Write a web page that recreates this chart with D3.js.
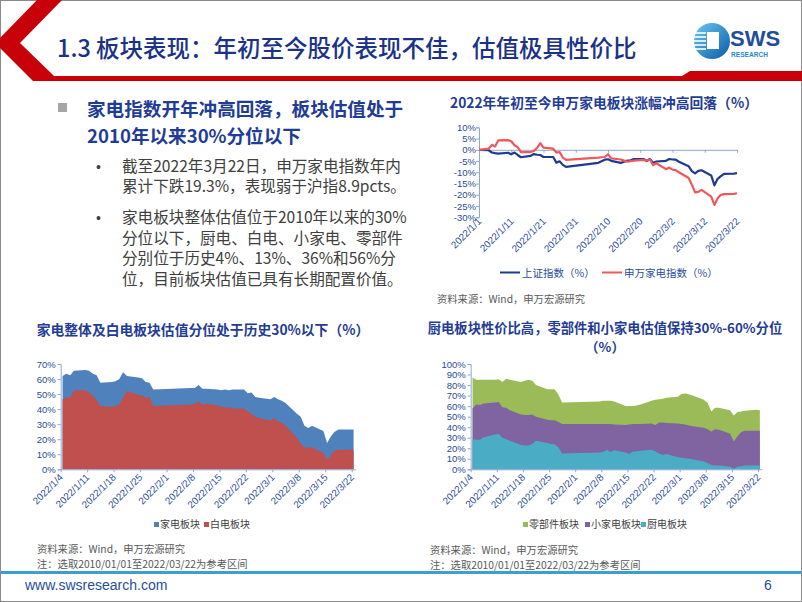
<!DOCTYPE html>
<html><head><meta charset="utf-8">
<script src="https://cdn.jsdelivr.net/npm/d3@7"></script>
<style>body{margin:0;background:#fff}svg{display:block}</style>
</head><body><svg id="c" width="802" height="602"></svg>
<script>
// ---------------- DATA ----------------
const tradingDays = ["2022/1/4","2022/1/5","2022/1/6","2022/1/7","2022/1/10","2022/1/11","2022/1/12","2022/1/13","2022/1/14","2022/1/17","2022/1/18","2022/1/19","2022/1/20","2022/1/21","2022/1/24","2022/1/25","2022/1/26","2022/1/27","2022/1/28",
"2022/2/7","2022/2/8","2022/2/9","2022/2/10","2022/2/11","2022/2/14","2022/2/15","2022/2/16","2022/2/17","2022/2/18","2022/2/21","2022/2/22","2022/2/23","2022/2/24","2022/2/25","2022/2/28",
"2022/3/1","2022/3/2","2022/3/3","2022/3/4","2022/3/7","2022/3/8","2022/3/9","2022/3/10","2022/3/11","2022/3/14","2022/3/15","2022/3/16","2022/3/17","2022/3/18","2022/3/21","2022/3/22"];
const lineDates = ["2022/1/1"].concat(tradingDays);
// 上证指数（%）
const sseIndex = [0,
 -0.2,-1.2,-1.5,-1.7,-1.3,-2.0,-1.2,-2.3,-3.3,-2.7,-1.9,-2.2,-2.3,-3.2,-3.2,-5.7,-5.1,-6.7,-7.6,
 -5.8,-5.1,-4.4,-4.2,-4.9,-5.8,-5.3,-4.8,-4.7,-4.1,-4.1,-5.0,-4.1,-5.8,-5.2,-4.9,
 -4.1,-4.3,-4.4,-5.3,-7.3,-9.5,-10.5,-9.4,-9.1,-11.4,-15.8,-12.9,-11.7,-10.7,-10.6,-10.4];
// 申万家电指数（%）
const swAppliance = [0,
 0.5,2.2,1.5,4.2,4.3,3.8,2.0,1.2,-1.0,-1.0,-0.5,0.8,3.0,1.0,0.5,-1.2,-1.0,-3.5,-4.5,
 -3.5,-3.3,-3.2,-2.0,-3.8,-4.3,-4.8,-5.3,-5.0,-4.8,-4.5,-4.8,-4.3,-6.8,-6.0,-8.6,
 -7.9,-8.8,-9.0,-10.0,-12.5,-15.5,-18.9,-18.7,-17.8,-20.8,-24.5,-21.5,-20.0,-19.7,-19.6,-19.3];
const lineTicks = ["2022/1/1","2022/1/11","2022/1/21","2022/1/31","2022/2/10","2022/2/20","2022/3/2","2022/3/12","2022/3/22"];
const lineYTicks = [10,5,0,-5,-10,-15,-20,-25,-30];

// 家电板块 / 白电板块 valuation percentile (%)
const applianceAll = [62,63.5,62.5,65.5,66,65.5,63.5,62.5,57.5,58,58.5,60,64.5,62,61,60.5,58,57.5,53,
 54,54,56,53.5,53.5,53,52.5,53,52.5,53,53,50.5,51,48,47.5,46.5,
 48,46.5,45.5,44,37,35,29,27.5,29,25.5,17.5,22,25,26.5,26.5,26.5];
const whiteGoods = [46.5,48,47.5,52.5,52.5,51,49,46,42,41.5,42,43,47.5,52,49.5,49,47.5,48,42,
 43,43.5,45,43,43.5,42.5,41.5,41,41,40.5,40.5,38.5,37,35,34,32.5,
 34,32,31,29,21,17,14.5,14.5,14.5,11,6,9.5,12.5,13,13,13];
// 零部件 / 小家电 / 厨电 valuation percentile (%)
const components = [87,85,85,85,85,85.5,83,86,85,83,84,85,84,80,76,76,76,71,63.5,
 64.5,65,65,65,64.5,60,60,60,60.5,61.5,65,66,66.5,67,68,69,
 71.5,72,71,70,66,63,55,58.5,58.5,56,51,54.5,55,55.5,56.5,56];
const smallAppliance = [58,61.5,61,62.5,63.5,64,59,58.5,56,52,51.5,51.5,52,50,47,46.5,46.5,45,43,
 43,43,43,43,42.5,42,42.5,43,43,43,43.5,42,44.5,44.5,44,43.5,
 43,42.5,41.5,41,39.5,38,36,38,37.5,34,26.5,31.5,35.5,36.5,36.5,36.5];
const kitchen = [28.5,28,28,30.5,33,33.5,30,28.5,27,23,22.5,22.5,24,27,25,24,23.5,21,15,
 16,16.5,18.5,16.5,18,16,14.5,17,17,17.5,18.5,17,15,13.5,14.5,11.5,
 11,10.5,10,9.5,7.5,6,4,3.5,3.5,2.5,0.5,2.5,3,3.5,3.5,3.5];
const areaTicks = ["2022/1/4","2022/1/11","2022/1/18","2022/1/25","2022/2/1","2022/2/8","2022/2/15","2022/2/22","2022/3/1","2022/3/8","2022/3/15","2022/3/22"];
const leftYTicks = [0,10,20,30,40,50,60,70];
const rightYTicks = [0,10,20,30,40,50,60,70,80,90,100];

// ---------------- DRAW ----------------
const CN = '"Noto Sans CJK SC", sans-serif';
const LAT = '"Liberation Sans", Arial, "Noto Sans CJK SC", sans-serif';
const parse = d3.timeParse("%Y/%m/%d");
const fmt = d3.timeFormat("%Y/%-m/%-d");
const AXIS = "#8fa8d8", LBL = "#2b4c99", SRC = "#595959";
const svg = d3.select("#c");

// multi-line text as one element with tspans
function multi(x, y, lines, dy, attrs){
  const t = svg.append("text").attr("x",x).attr("y",y);
  Object.entries(attrs).forEach(([k,v])=>t.attr(k,v));
  lines.forEach((s,i)=>t.append("tspan").attr("x",x).attr("dy",i?dy:0).text(s));
  return t;
}

// header
svg.append("rect").attr("x",0.5).attr("y",0.5).attr("width",801).attr("height",601)
  .attr("fill","none").attr("stroke","#8a8a8a");
svg.append("polygon").attr("fill","#c8000a")
  .attr("points","37,0 62,0 20,43 54,76 682,76 690,71 802,71 802,81 33,81 0,48 0,38");
svg.append("text").attr("x",57).attr("y",57).attr("font-family",CN).attr("font-size",23.5)
  .attr("font-weight",500).attr("fill","#1b3288").text("1.3 板块表现：年初至今股价表现不佳，估值极具性价比");

// logo
const defs = svg.append("defs");
const g1 = defs.append("linearGradient").attr("id","lg").attr("x1","0").attr("y1","0").attr("x2","1").attr("y2","1");
g1.append("stop").attr("offset","0").attr("stop-color","#6cc8f2");
g1.append("stop").attr("offset","1").attr("stop-color","#0a5aa6");
svg.append("circle").attr("cx",712).attr("cy",41).attr("r",18).attr("fill","url(#lg)");
svg.append("rect").attr("x",707).attr("y",32).attr("width",12).attr("height",17).attr("fill","#fff");
[33,37,41,45,49].forEach(yy=>svg.append("line").attr("x1",694).attr("x2",706).attr("y1",yy).attr("y2",yy)
  .attr("stroke","#fff").attr("stroke-width",1.6));
svg.append("text").attr("x",730).attr("y",45.5).attr("font-family",LAT).attr("font-weight","bold")
  .attr("font-size",22).attr("fill","#1f4e9c").text("SWS");
svg.append("text").attr("x",731).attr("y",57).attr("font-family",LAT).attr("font-weight","bold")
  .attr("font-size",6.5).attr("fill","#1e88d0").attr("textLength",37).text("RESEARCH");

// left text block
svg.append("rect").attr("x",58).attr("y",103).attr("width",9).attr("height",9).attr("fill","#a6a6a6");
multi(87,115.5,["家电指数开年冲高回落，板块估值处于","2010年以来30%分位以下"],27,
  {"font-family":CN,"font-size":18.6,"font-weight":"bold","fill":"#1f3c96"});
const bullets = [
  [171.5,["截至2022年3月22日，申万家电指数年内","累计下跌19.3%，表现弱于沪指8.9pcts。"]],
  [223,["家电板块整体估值位于2010年以来的30%","分位以下，厨电、白电、小家电、零部件","分别位于历史4%、13%、36%和56%分","位，目前板块估值已具有长期配置价值。"]]];
bullets.forEach(([y,lines])=>{
  svg.append("text").attr("x",96).attr("y",y).attr("font-family",LAT).attr("font-size",14).attr("fill","#404040").text("•");
  multi(122,y,lines,20.5,{"font-family":CN,"font-size":15.6,"fill":"#404040"});
});

function title(x,y,lines,size,dy){
  multi(x,y,lines,dy||15,{"text-anchor":"middle","font-family":CN,"font-size":size||13.5,"font-weight":"bold","fill":"#1f3c96"});
}
function styleAxis(g){
  g.select(".domain").attr("stroke",AXIS);
  g.selectAll(".tick line").attr("stroke",AXIS);
  g.selectAll(".tick text").attr("fill",LBL).attr("font-family",LAT).attr("font-size",9.5);
}
function xLabels(x, ticks, yBase){
  svg.append("g").selectAll("text").data(ticks.map(parse)).join("text")
    .attr("transform",d=>`translate(${x(d)+3},${yBase}) rotate(-45)`)
    .attr("text-anchor","end").attr("font-family",LAT).attr("font-size",9.8).attr("fill",LBL)
    .text(d=>fmt(d));
}
function source(x,y,lines){
  multi(x,y,lines,15,{"font-family":CN,"font-size":10.3,"fill":SRC});
}

// ---- Chart 1: line chart ----
{
  title(604,108,["2022年年初至今申万家电板块涨幅冲高回落（%）"],13.8);
  const x = d3.scaleTime().domain([parse("2022/1/1"),parse("2022/3/22")]).range([479,737]);
  const y = d3.scaleLinear().domain([-30,10]).range([217.3,127.3]);
  svg.append("g").attr("transform","translate(479,0)")
    .call(d3.axisLeft(y).tickValues(lineYTicks).tickSize(3).tickFormat(d=>d+"%")).call(styleAxis)
    .call(g=>g.selectAll(".tick text").attr("x",-3));
  svg.append("g").attr("transform",`translate(0,${y(0)})`)
    .call(d3.axisBottom(x).tickValues(lineTicks.map(parse)).tickSize(3).tickSizeOuter(0).tickFormat(""))
    .call(styleAxis);
  xLabels(x, lineTicks, 222);
  const dates = lineDates.map(parse);
  const series = [[sseIndex,"#1f3a93"],[swAppliance,"#f0575a"]];
  series.forEach(([vals,col])=>{
    svg.append("path").datum(vals).attr("fill","none").attr("stroke",col).attr("stroke-width",2.2)
      .attr("stroke-linejoin","round")
      .attr("d",d3.line().x((d,i)=>x(dates[i])).y(d=>y(d)));
  });
  const leg = [["上证指数（%）","#1f3a93",500],["申万家电指数（%）","#f0575a",602]];
  leg.forEach(([t,c,lx])=>{
    svg.append("line").attr("x1",lx).attr("x2",lx+20).attr("y1",272.5).attr("y2",272.5).attr("stroke",c).attr("stroke-width",2);
    svg.append("text").attr("x",lx+22).attr("y",276.5).attr("font-family",CN).attr("font-size",10.5).attr("fill",LBL).text(t);
  });
  source(437,303,["资料来源：Wind，申万宏源研究"]);
}

// ---- Area chart helper ----
function areaChart(o){
  const d0 = parse(o.ticks[0]), dEnd = d3.timeDay.offset(parse(o.ticks[o.ticks.length-1]),1);
  const w = (o.lastTick - o.x0)/ ( (parse(o.ticks[o.ticks.length-1]) - d0)/864e5 );
  const x = d3.scaleTime().domain([d0,dEnd]).range([o.x0, o.x0 + w*((dEnd-d0)/864e5)]);
  const y = d3.scaleLinear().domain([0,o.yMax]).range([o.yb,o.yt]);
  const dates = tradingDays.map(d=>d3.timeHour.offset(parse(d),12));
  o.series.forEach(([vals,col])=>{
    svg.append("path").datum(vals).attr("fill",col)
      .attr("d",d3.area().x((d,i)=>x(dates[i])).y0(y(0)).y1(d=>y(d)));
  });
  svg.append("g").attr("transform",`translate(${o.x0},0)`)
    .call(d3.axisLeft(y).tickValues(o.yTicks).tickSize(3).tickFormat(d=>d+"%")).call(styleAxis)
    .call(g=>g.selectAll(".tick text").attr("x",-5));
  svg.append("g").attr("transform",`translate(0,${y(0)})`)
    .call(d3.axisBottom(x).tickValues(o.ticks.map(parse)).tickSize(3).tickSizeOuter(0).tickFormat(""))
    .call(styleAxis);
  xLabels(x, o.ticks, o.labelY);
  o.legend.forEach(([t,c,lx])=>{
    svg.append("rect").attr("x",lx).attr("y",o.legY-6).attr("width",5).attr("height",5).attr("fill",c);
    svg.append("text").attr("x",lx+6).attr("y",o.legY).attr("font-family",CN).attr("font-size",10).attr("fill","#404040").text(t);
  });
}

// ---- Chart 2 ----
title(203,335,["家电整体及白电板块估值分位处于历史30%以下（%）"],13.8);
areaChart({x0:60.7,lastTick:351.7,yb:469.3,yt:364,yMax:70,yTicks:leftYTicks,ticks:areaTicks,labelY:478,
  series:[[applianceAll,"#4f81bd"],[whiteGoods,"#c0504d"]],
  legend:[["家电板块","#4f81bd",154],["白电板块","#c0504d",204]],legY:528});
source(37,552.5,["资料来源：Wind，申万宏源研究","注：选取2010/01/01至2022/03/22为参考区间"]);

// ---- Chart 3 ----
title(605,332.5,["厨电板块性价比高，零部件和小家电估值保持30%-60%分位","（%）"],13.3,19.5);
areaChart({x0:470.7,lastTick:758,yb:469.3,yt:364,yMax:100,yTicks:rightYTicks,ticks:areaTicks,labelY:478,
  series:[[components,"#9bbb59"],[smallAppliance,"#8064a2"],[kitchen,"#4bacc6"]],
  legend:[["零部件板块","#9bbb59",523],["小家电板块","#8064a2",585],["厨电板块","#4bacc6",641]],legY:528});
source(430,554,["资料来源：Wind，申万宏源研究","注：选取2010/01/01至2022/03/22为参考区间"]);

// footer
svg.append("line").attr("x1",1).attr("x2",801).attr("y1",572.5).attr("y2",572.5).attr("stroke","#3d9fcb").attr("stroke-width",3);
svg.append("text").attr("x",25).attr("y",590).attr("font-family",LAT).attr("font-size",14).attr("fill","#1f4e9c").text("www.swsresearch.com");
svg.append("text").attr("x",764).attr("y",590).attr("font-family",LAT).attr("font-size",14).attr("fill","#1f4e9c").text("6");
</script></body></html>
